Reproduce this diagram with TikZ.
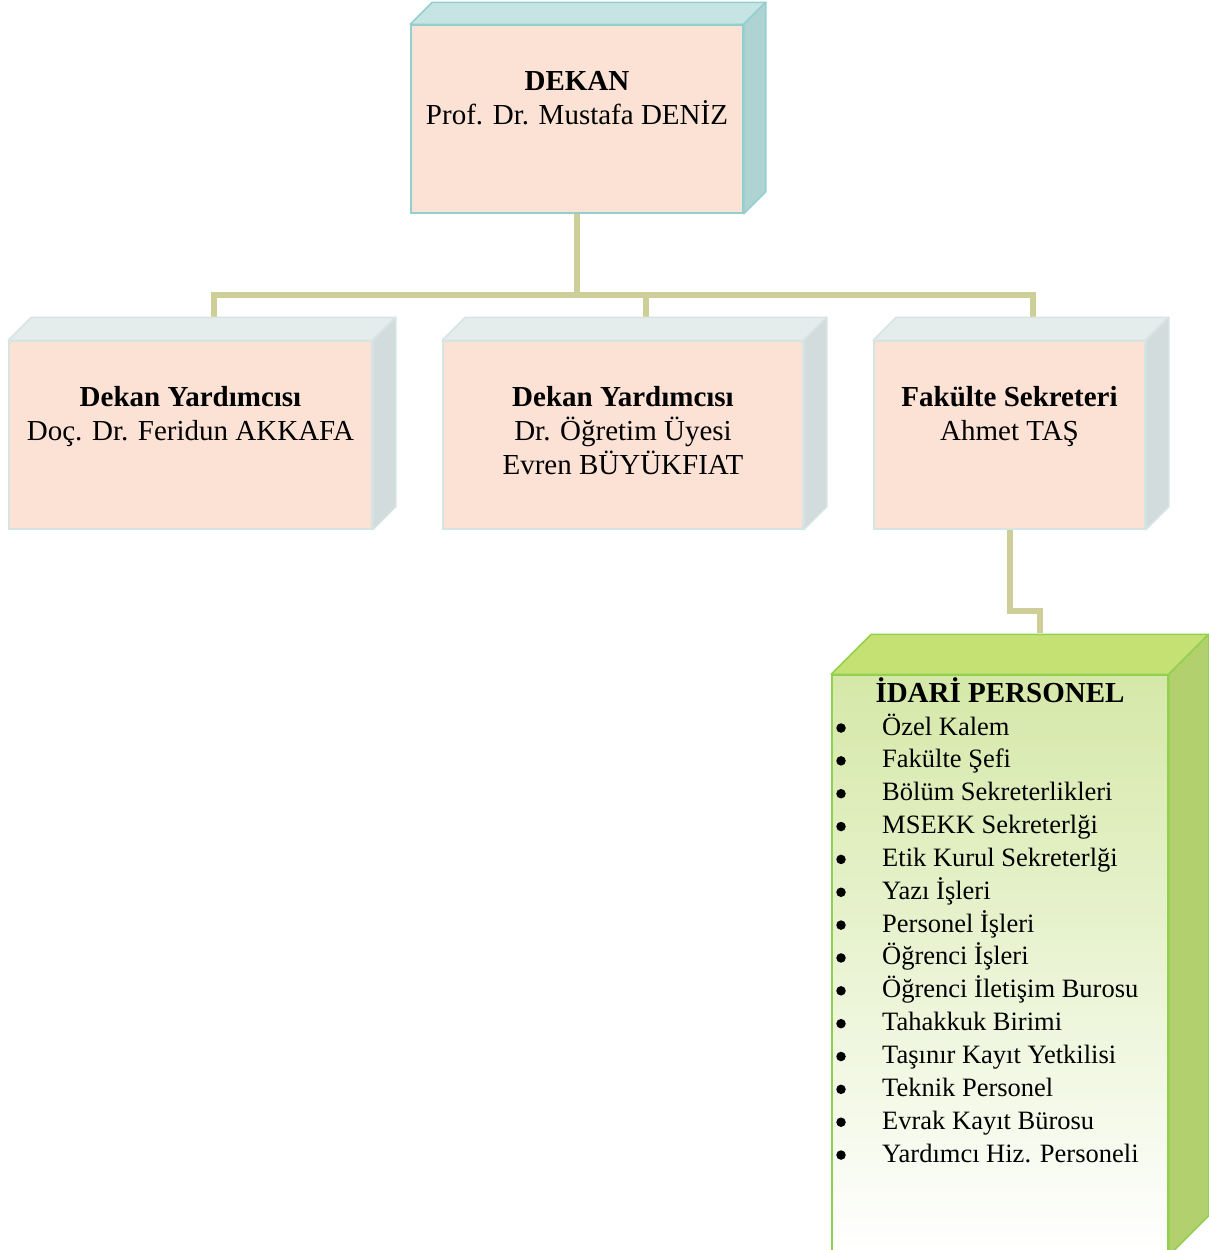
\documentclass[tikz,border=0pt]{standalone}
\usepackage{fontspec}
\setmainfont{Liberation Serif}
\usetikzlibrary{positioning}

\definecolor{peach}{HTML}{FBE2D5}
\definecolor{tealedge}{HTML}{93CFCF}
\definecolor{tealtop}{HTML}{C6E4E4}
\definecolor{tealside}{HTML}{AFD2D2}
\definecolor{grayedge}{HTML}{D6E4E4}
\definecolor{graytop}{HTML}{E5ECEC}
\definecolor{grayside}{HTML}{D3DCDD}
\definecolor{greenedge}{HTML}{92D050}
\definecolor{greentop}{HTML}{C5E174}
\definecolor{greenside}{HTML}{B3D06E}
\definecolor{greenfront}{HTML}{D5E8A8}
\definecolor{linkc}{HTML}{CDCE98}

\begin{document}
\begin{tikzpicture}[x=1pt,y=-1pt,
  every node/.style={font=\fontsize{29}{34}\selectfont, inner sep=0pt},
  front/.style={draw=#1, line width=1.5pt, minimum height=188pt},
  link/.style={draw=linkc, line width=6pt}]
  \useasboundingbox (0,0) rectangle (1208,1250);

  % front faces
  \node[front=tealedge, fill=peach, minimum width=332pt] (D) at (577,119) {};
  \node[front=grayedge, fill=peach, minimum width=363pt] (A) at (190.5,435) {};
  \node[front=grayedge, fill=peach, minimum width=360pt] (B) at (623,435) {};
  \node[front=grayedge, fill=peach, minimum width=271pt] (C) at (1009.5,435) {};
  \node[front=greenedge, top color=greenfront, bottom color=white,
        minimum width=336pt, minimum height=580pt] (P) at (1000,965) {};

  % connectors
  \coordinate (J) at ([yshift=-81pt]D.south);
  \draw[link] (D.south) -- (J);
  \foreach \n in {A,B,C}
    \draw[link] (J) -| ([shift={(23,-23)}]\n.north);
  \draw[link] (C.south) -- ++(0,81) -| ([shift={(40,-41)}]P.north);

  % top and side faces
  \foreach \n/\d/\t/\s/\e in {D/22/tealtop/tealside/tealedge,
      A/23/graytop/grayside/grayedge, B/23/graytop/grayside/grayedge,
      C/23/graytop/grayside/grayedge, P/40/greentop/greenside/greenedge} {
    \filldraw[fill=\t, draw=\e, line width=1.5pt, line join=round]
      (\n.north west) -- ++(\d,-\d) -- ([shift={(\d,-\d)}]\n.north east)
      -- (\n.north east) -- cycle;
    \filldraw[fill=\s, draw=\e, line width=1.5pt, line join=round]
      (\n.north east) -- ++(\d,-\d) -- ([shift={(\d,-\d)}]\n.south east)
      -- (\n.south east) -- cycle;
  }

  % texts (base = last line)
  \node[anchor=base, align=center] (Dt) at (577,124)
    {\textbf{DEKAN}\\Prof. Dr. Mustafa DENİZ};
  \node[anchor=base, align=center] (At) at (190.5,440)
    {\textbf{Dekan Yardımcısı}\\Doç. Dr. Feridun AKKAFA};
  \node[anchor=base, align=center] (Bt) at (623,474)
    {\textbf{Dekan Yardımcısı}\\Dr. Öğretim Üyesi\\Evren BÜYÜKFIAT};
  \node[anchor=base, align=center] (Ct) at (1009.5,440)
    {\textbf{Fakülte Sekreteri}\\Ahmet TAŞ};
  \node[anchor=base] (Pt) at (1000,702) {\textbf{İDARİ PERSONEL}};

  \foreach \t [count=\i from 0] in {Özel Kalem, Fakülte Şefi,
      Bölüm Sekreterlikleri, MSEKK Sekreterlği, Etik Kurul Sekreterlği,
      Yazı İşleri, Personel İşleri, Öğrenci İşleri,
      Öğrenci İletişim Burosu, Tahakkuk Birimi, Taşınır Kayıt Yetkilisi,
      Teknik Personel, Evrak Kayıt Bürosu, Yardımcı Hiz. Personeli} {
    \node[circle, fill, minimum size=9.5pt] (b\i) at (841,{728+32.85*\i}) {};
    \node[anchor=base west, font=\fontsize{26.5}{32}\selectfont] (L\i)
      at (882,{735+32.85*\i}) {\t};
  }
\end{tikzpicture}
\end{document}
